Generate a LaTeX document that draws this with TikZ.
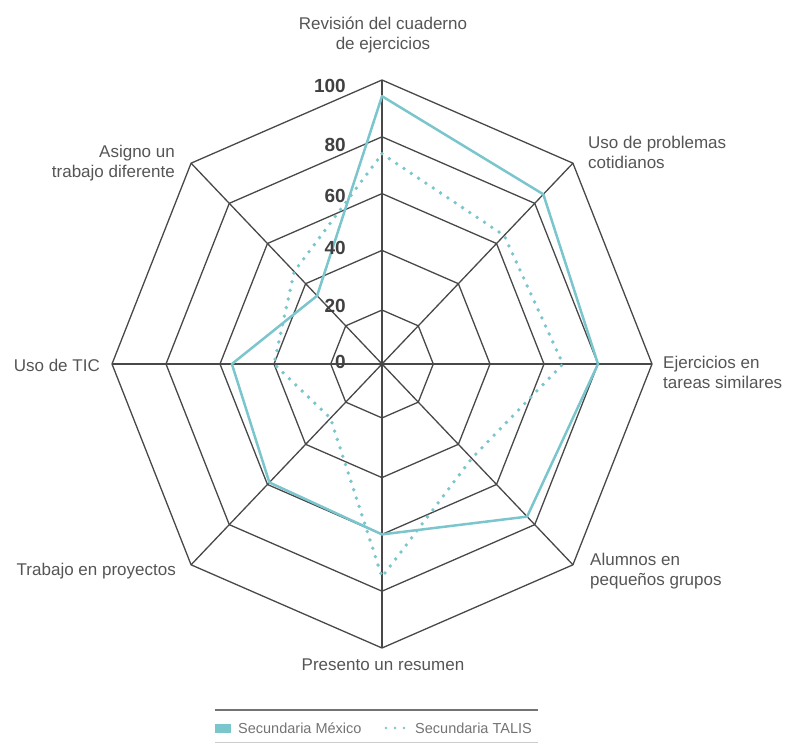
\documentclass[tikz,border=0pt]{standalone}
\usepackage{fontspec}
\setmainfont{Liberation Sans}
\definecolor{seriescol}{RGB}{122,198,204}
\definecolor{gridcol}{RGB}{72,72,72}
\definecolor{labelcol}{RGB}{85,85,85}
\begin{document}
\begin{tikzpicture}[x=1pt,y=1pt,
  gridline/.style={draw=gridcol, line width=1.3pt},
  mexline/.style={draw=seriescol, line width=2.5pt, line join=round},
  talisline/.style={draw=seriescol, line width=3.8pt, line cap=round, dash pattern=on 0pt off 8.8pt},
  cat/.style={text=labelcol, font=\fontsize{17}{20}\selectfont, inner sep=0pt},
  val/.style={text=black!75, font=\fontsize{19}{19}\selectfont\bfseries, inner sep=0pt, anchor=east},
  legtext/.style={text=black!55, font=\fontsize{14.5}{14.5}\selectfont, inner sep=0pt, anchor=west}]
\useasboundingbox (0,0) rectangle (789,744);

% radar grid, axes and the two series
\begin{scope}[shift={(382pt,380pt)}, x=270pt, y=284pt]
  \coordinate (c) at (0,0);
  \foreach \f in {0.19,0.4,0.6,0.8,1}
    \draw[gridline] (90:\f) -- (45:\f) -- (0:\f) -- (-45:\f) -- (-90:\f)
      -- (-135:\f) -- (180:\f) -- (135:\f) -- cycle;
  \foreach \a/\n in {90/rev,45/prob,0/ejer,-45/alum,-90/pres,-135/trab,180/tic,135/asig}{
    \coordinate (v-\n) at (\a:1);
    \draw[gridline] (c) -- (v-\n);
  }
  % Secundaria México
  \draw[mexline] (90:0.943) -- (45:0.845) -- (0:0.80) -- (-45:0.76) -- (-90:0.60)
    -- (-135:0.59) -- (180:0.556) -- (135:0.34) -- cycle;
  % Secundaria TALIS
  \draw[talisline] (90:0.74) -- (45:0.64) -- (0:0.67) -- (-45:0.47) -- (-90:0.75)
    -- (-135:0.27) -- (180:0.40) -- (135:0.46) -- cycle;
\end{scope}

% scale values
\node[val] (s100) at (346,658) {100};
\node[val] (s80) at (346,599) {80};
\node[val] (s60) at (346,548) {60};
\node[val] (s40) at (346,496) {40};
\node[val] (s20) at (346,438) {20};
\node[val] (s0) at (346,382) {0};

% category labels
\node[cat, align=center] (l-rev) at (383,709) {Revisión del cuaderno\\de ejercicios};
\node[cat, align=left, anchor=west] (l-prob) at (588,592) {Uso de problemas\\cotidianos};
\node[cat, align=left, anchor=west] (l-ejer) at (663,372) {Ejercicios en\\tareas similares};
\node[cat, align=left, anchor=west] (l-alum) at (590,173) {Alumnos en\\pequeños grupos};
\node[cat] (l-pres) at (383,79) {Presento un resumen};
\node[cat, anchor=east] (l-trab) at (176,173) {Trabajo en proyectos};
\node[cat, anchor=east] (l-tic) at (100,379) {Uso de TIC};
\node[cat, align=right, anchor=east] (l-asig) at (175,581) {Asigno un\\trabajo diferente};

% legend
\draw[draw=black!55, line width=1.6pt] (215,34) -- (538,34);
\draw[draw=black!20, line width=0.8pt] (215,2) -- (538,2);
\node[fill=seriescol, minimum width=16pt, minimum height=9pt, inner sep=0pt] (leg-sq) at (223,16) {};
\node[legtext] (leg-mex) at (238,16) {Secundaria México};
\draw[draw=seriescol, line width=2.8pt, line cap=round, dash pattern=on 0pt off 9pt] (386,16) -- (404.5,16);
\node[legtext] (leg-talis) at (415,16) {Secundaria TALIS};
\end{tikzpicture}
\end{document}
